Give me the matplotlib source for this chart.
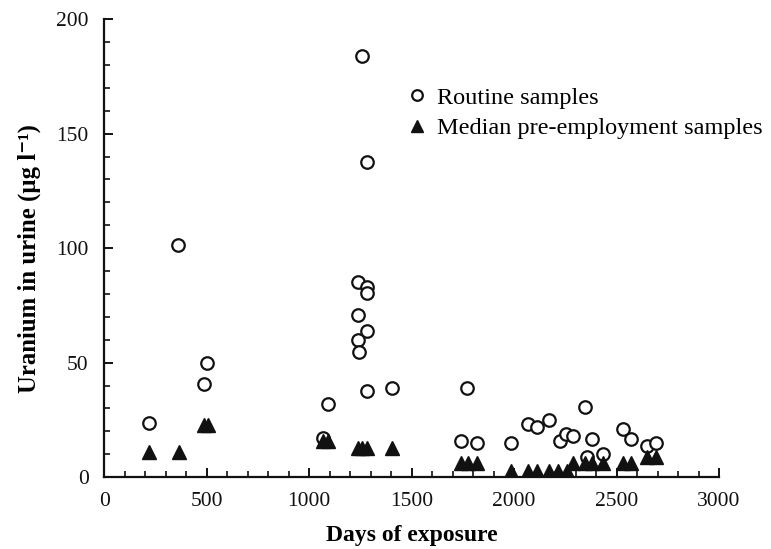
import matplotlib
matplotlib.use("Agg")
import matplotlib.pyplot as plt
from matplotlib.ticker import MultipleLocator

# Routine samples (days, µg/l)
routine_days = [220, 362, 485, 504, 1067, 1091, 1237, 1257, 1281, 1281, 1237, 1281,
                1241, 1244, 1285, 1281, 1406, 1741, 1772, 1818, 1984, 2070, 2111,
                2171, 2224, 2254, 2289, 2348, 2358, 2382, 2432, 2533, 2571, 2647, 2693]
routine_vals = [23.7, 101.3, 40.7, 50, 16.9, 31.9, 85, 183.9, 83, 80.6, 70.8, 64,
                60, 54.8, 37.7, 137.7, 39, 15.7, 39, 14.7, 15, 23, 22,
                25, 15.7, 19, 18, 30.8, 8.9, 16.6, 10, 20.8, 16.6, 13.7, 14.7]

# Median pre-employment samples
pre_days = [220, 366, 485, 508, 1067, 1091, 1237, 1260, 1285, 1406,
            1741, 1777, 1821, 1984, 2070, 2111, 2172, 2216, 2257,
            2289, 2348, 2382, 2432, 2530, 2572, 2647, 2693]
pre_vals = [10.9, 10.9, 22.9, 22.9, 15.7, 15.7, 12.5, 12.5, 12.5, 12.5,
            6, 6, 6, 2.8, 2.8, 2.8, 2.8, 2.8, 2.8,
            6, 6, 6, 6, 6, 6, 8.9, 8.9]

plt.rcParams['font.family'] = ['Liberation Serif', 'DejaVu Serif']

fig = plt.figure(figsize=(7.71, 5.49), dpi=100)
ax = fig.add_axes([0.135, 0.131, 0.7976, 0.834])

ax.plot(routine_days, routine_vals, linestyle='none', marker='o', markersize=9,
        markerfacecolor='white', markeredgecolor='#111111', markeredgewidth=1.6,
        label='Routine samples')
ax.plot(pre_days, pre_vals, linestyle='none', marker='^', markersize=10,
        markerfacecolor='#111111', markeredgecolor='#111111',
        label='Median pre-employment samples')

ax.set_xlim(0, 3000)
ax.set_ylim(0, 200)
ax.xaxis.set_major_locator(MultipleLocator(500))
ax.xaxis.set_minor_locator(MultipleLocator(100))
ax.yaxis.set_major_locator(MultipleLocator(50))
ax.yaxis.set_minor_locator(MultipleLocator(10))

for s in ['top', 'right']:
    ax.spines[s].set_visible(False)
for s in ['left', 'bottom']:
    ax.spines[s].set_linewidth(1.6)
    ax.spines[s].set_color('#111111')

ax.tick_params(which='major', direction='in', length=6.5, width=1.4, labelsize=15.5,
               colors='#111111')
ax.tick_params(axis='x', which='major', pad=11)
ax.tick_params(axis='y', which='major', pad=11)
ax.tick_params(which='minor', direction='in', length=4, width=1.2, colors='#111111')

ax.set_xlabel('Days of exposure', fontsize=17, fontweight='bold', labelpad=10)
ax.set_ylabel('Uranium in urine (µg l⁻¹)', fontsize=17.8, fontweight='bold')
ax.yaxis.set_label_coords(-0.102, 0.478)

ax.legend(loc='upper left', bbox_to_anchor=(0.474, 0.874), frameon=False, fontsize=17.5,
          handletextpad=0.3, labelspacing=0.35, borderaxespad=0, handlelength=1.0,
          markerscale=0.85)

fig.savefig('out.png', dpi=100)
